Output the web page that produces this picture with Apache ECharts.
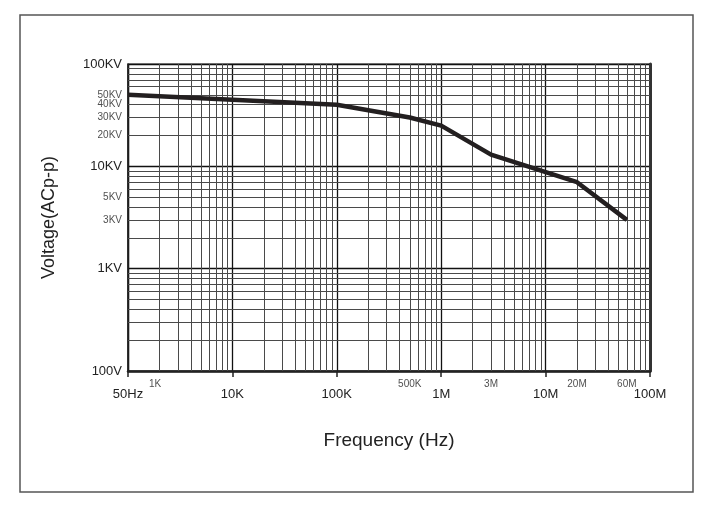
<!DOCTYPE html>
<html>
<head>
<meta charset="utf-8">
<script src="https://cdn.jsdelivr.net/npm/echarts@6/dist/echarts.min.js"></script>
<style>
  html, body { margin: 0; padding: 0; background: #fff; }
  #box { width: 716px; height: 505px; }
</style>
</head>
<body>
<div id="box"></div>
<script>
// curve points
var freq = [1000, 100000, 500000, 1000000, 3000000, 20000000, 60000000];
var volt = [50000, 40000, 30000, 25000, 13000, 7000, 3000];

// decade labels
var xTickLabels = { 1000: '50Hz', 10000: '10K', 100000: '100K', 1000000: '1M', 10000000: '10M', 100000000: '100M' };
var yTickLabels = { 100: '100V', 1000: '1KV', 10000: '10KV', 100000: '100KV' };

// small extra labels
var xSmallVals = [1000, 500000, 3000000, 20000000, 60000000];
var xSmallText = ['1K', '500K', '3M', '20M', '60M'];
var ySmallVals = [50000, 40000, 30000, 20000, 5000, 3000];
var ySmallText = ['50KV', '40KV', '30KV', '20KV', '5KV', '3KV'];

// minor grid lines 2..9 per decade
function minors(fromExp, toExp) {
    var out = [];
    for (var e = fromExp; e < toExp; e++) {
        for (var m = 2; m <= 9; m++) out.push(m * Math.pow(10, e));
    }
    return out;
}
var xMinor = minors(3, 8);
var yMinor = minors(2, 5);

var myChart = echarts.init(document.getElementById('box'));

var gridMarks = [];
xMinor.forEach(function (v) { gridMarks.push({ xAxis: v }); });
yMinor.forEach(function (v) { gridMarks.push({ yAxis: v }); });

var curve = freq.map(function (f, i) { return [f, volt[i]]; });

option = {
    animation: false,
    textStyle: { fontFamily: 'Liberation Sans, Arial, sans-serif' },
    graphic: [{
        type: 'rect',
        shape: { x: 20, y: 15, width: 673, height: 477 },
        style: { fill: 'none', stroke: '#555', lineWidth: 1.5 },
        silent: true
    }],
    grid: {
        left: 128, right: 66, top: 64, bottom: 134,
        show: true, borderColor: '#222', borderWidth: 1.2
    },
    xAxis: {
        type: 'log',
        min: 1000, max: 100000000,
        logBase: 10,
        name: 'Frequency (Hz)',
        nameLocation: 'middle',
        nameGap: 60,
        nameTextStyle: { fontSize: 19, color: '#222', letterSpacing: 1 },
        axisLine: { show: true, onZero: false, lineStyle: { color: '#222', width: 2.5 } },
        axisTick: { show: true, inside: false, length: 6, lineStyle: { color: '#222', width: 1.5 } },
        axisLabel: {
            margin: 17, fontSize: 13, color: '#222',
            formatter: function (v) { return xTickLabels[Math.round(v)] || ''; }
        },
        splitLine: { show: true, lineStyle: { color: '#111', width: 1.3 } }
    },
    yAxis: [{
        type: 'log',
        min: 100, max: 100000,
        logBase: 10,
        name: 'Voltage(ACp-p)',
        nameLocation: 'middle',
        nameGap: 70,
        nameTextStyle: { fontSize: 18, color: '#222', letterSpacing: 1 },
        axisLine: { show: true, lineStyle: { color: '#222', width: 1.5 } },
        axisTick: { show: false },
        axisLabel: {
            margin: 6, fontSize: 13, color: '#222',
            formatter: function (v) { return yTickLabels[Math.round(v)] || ''; }
        },
        splitLine: { show: true, lineStyle: { color: '#111', width: 1.3 } }
    }, {
        type: 'log',
        min: 100, max: 100000,
        position: 'right',
        axisLine: { show: true, lineStyle: { color: '#333', width: 3 } },
        axisTick: { show: false },
        axisLabel: { show: false },
        splitLine: { show: false }
    }],
    series: [
        {
            name: 'grid',
            type: 'line',
            data: [],
            silent: true,
            markLine: {
                silent: true,
                symbol: 'none',
                label: { show: false },
                lineStyle: { color: '#4a4a4a', width: 1, type: 'solid' },
                data: gridMarks
            }
        },
        {
            name: 'xsmall',
            type: 'scatter',
            symbolSize: 0,
            silent: true,
            data: xSmallVals.map(function (v, i) { return { value: [v, 100], name: xSmallText[i] }; }),
            label: {
                show: true, position: 'bottom', distance: 8, fontSize: 10, color: '#222',
                formatter: function (p) { return p.name; }
            },
            labelLayout: function (p) {
                if (p.dataIndex === 0) return { dx: 27 };
                return {};
            }
        },
        {
            name: 'ysmall',
            type: 'scatter',
            symbolSize: 0,
            silent: true,
            data: ySmallVals.map(function (v, i) { return { value: [1000, v], name: ySmallText[i] }; }),
            label: {
                show: true, position: 'left', distance: 6, fontSize: 10, lineHeight: 13, color: '#222',
                formatter: function (p) { return p.name; }
            },
            labelLayout: { moveOverlap: 'shiftY' }
        },
        {
            name: 'Voltage',
            type: 'line',
            data: curve,
            symbol: 'none',
            silent: true,
            z: 5,
            lineStyle: { color: '#231f20', width: 4.5, join: 'round' }
        }
    ]
};

myChart.setOption(option);
</script>
</body>
</html>
